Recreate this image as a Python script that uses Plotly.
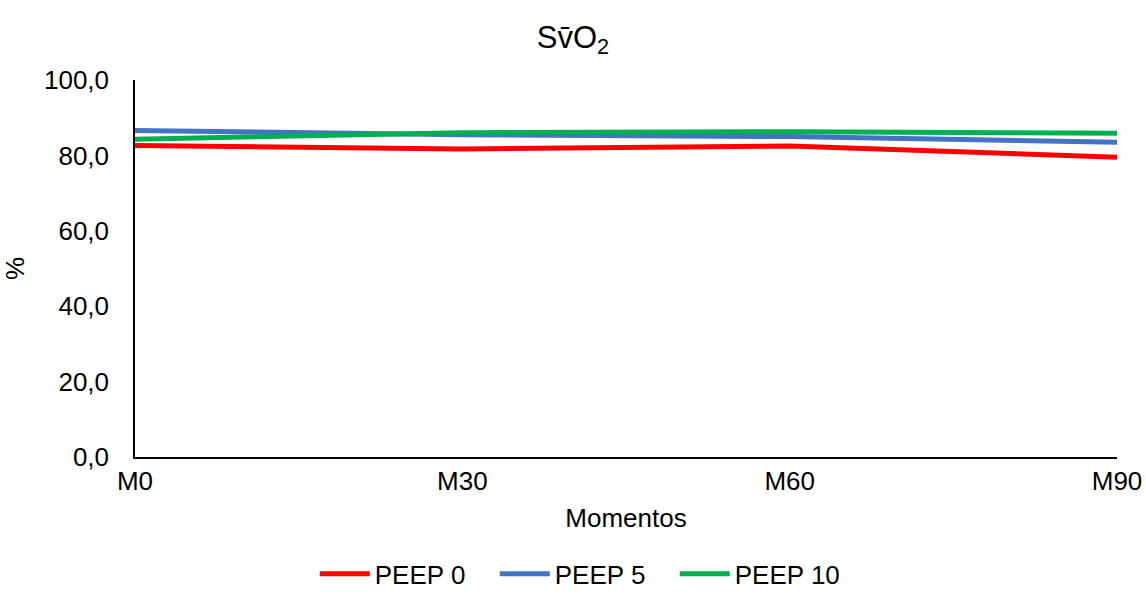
import plotly.graph_objects as go

categories = ["M0", "M30", "M60", "M90"]
peep0 = [82.6, 81.7, 82.5, 79.5]
peep5 = [86.6, 85.5, 85.0, 83.5]
peep10 = [84.3, 86.0, 86.3, 85.9]
series_names = ["PEEP 0", "PEEP 5", "PEEP 10"]
colors = ["#FF0000", "#4472C4", "#00B050"]
y_ticks = [0, 20, 40, 60, 80, 100]

FONT = "Liberation Sans, Arial, sans-serif"
FS = 26

fig = go.Figure()
for name, vals, col in zip(series_names, [peep0, peep5, peep10], colors):
    fig.add_trace(go.Scatter(x=categories, y=vals, mode="lines", name=name,
                             line=dict(color=col, width=5)))

fig.update_layout(
    width=1146, height=599,
    margin=dict(l=135, r=29, t=80, b=142, autoexpand=False),
    paper_bgcolor="white", plot_bgcolor="white",
    separators=",.",
    font=dict(family=FONT, size=FS, color="#000000"),
    title=dict(text="Sv\u0304O<sub>2</sub>", x=0.5, xanchor="center", y=0.938, yanchor="middle",
               font=dict(family=FONT, size=31, color="#000000")),
    xaxis=dict(type="category", range=[0, 3], showgrid=False, showline=True,
               linecolor="#000000", linewidth=1.5, ticks="", ticklabelstandoff=0,
               automargin=False,
               title=dict(text="Momentos", font=dict(size=FS), standoff=14),
               tickfont=dict(size=FS)),
    yaxis=dict(range=[0, 100], tickvals=y_ticks, tickformat=".1f", showgrid=False,
               showline=True, linecolor="#000000", linewidth=1.5, ticks="",
               ticklabelstandoff=19, zeroline=False, automargin=False,
               title=dict(text="%", font=dict(size=FS), standoff=12),
               tickfont=dict(size=FS)),
    legend=dict(orientation="h", x=0.458, xanchor="center", y=-0.372, yanchor="bottom",
                font=dict(size=FS), itemwidth=50, entrywidth=115, tracegroupgap=0,
                borderwidth=0),
)

fig.write_html("out.html")
